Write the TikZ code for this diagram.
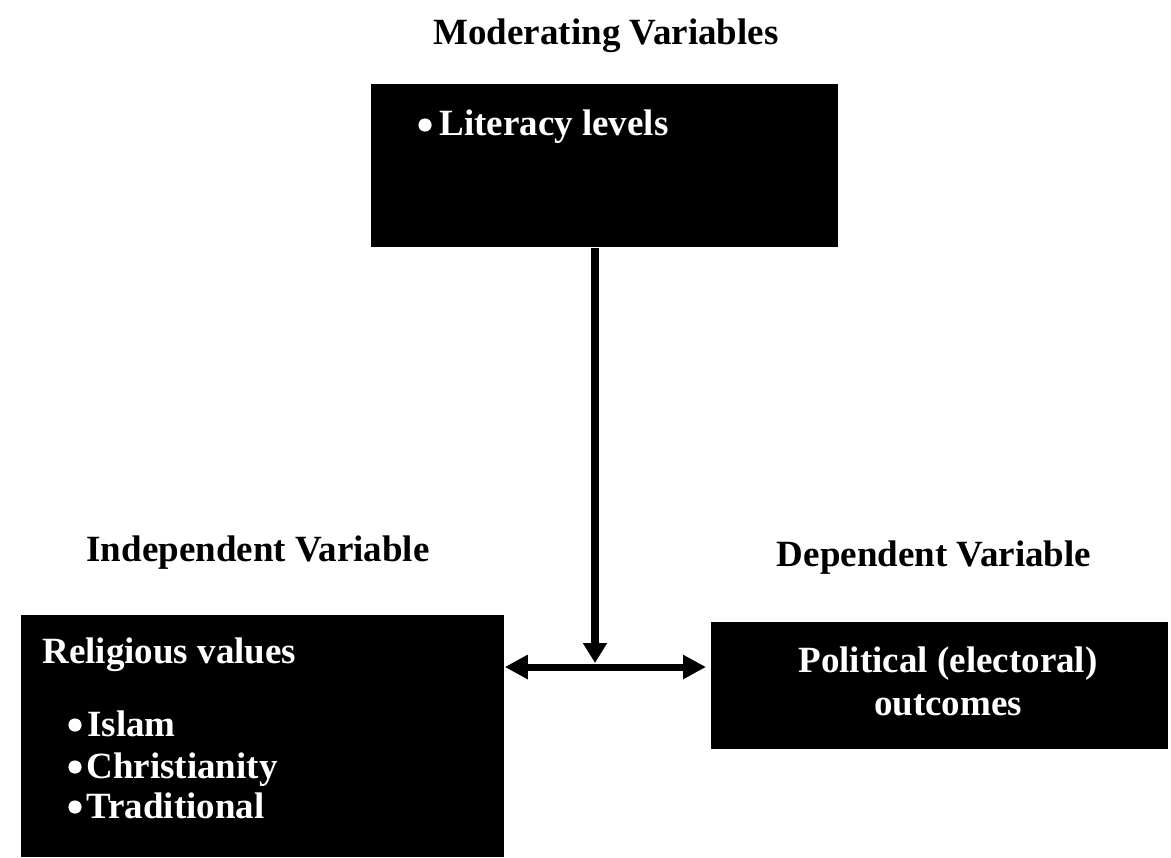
\documentclass[tikz,border=0pt]{standalone}
\usepackage{fontspec}
\setmainfont{Liberation Serif}
\usetikzlibrary{arrows.meta}
\begin{document}
\begin{tikzpicture}[x=0.5pt,y=-0.5pt,
  box/.style={fill=black, draw=none, inner sep=0pt, anchor=north west},
  lbl/.style={font=\fontsize{18.5}{22}\selectfont\bfseries, inner sep=0pt, text=black},
  wtxt/.style={lbl, text=white},
  bul/.style={fill=white},
  vconn/.style={line width=4pt, -{Triangle[length=10pt,width=11.5pt]}},
  hconn/.style={line width=3.5pt, {Triangle[length=11.5pt,width=11.5pt]}-{Triangle[length=11.5pt,width=11.5pt]}},
]
\useasboundingbox (0,0) rectangle (1171,857);
% boxes
\node[box, minimum width=233.5pt, minimum height=81.5pt] (mod) at (371,84) {};
\node[box, minimum width=241.5pt, minimum height=121pt] (ind) at (21,615) {};
\node[box, minimum width=228.5pt, minimum height=63.5pt] (dep) at (711,622) {};
% headings
\node[lbl, anchor=base] (tmod) at (606,44) {Moderating Variables};
\node[lbl, anchor=base] (tind) at (258,561) {Independent Variable};
\node[lbl, anchor=base] (tdep) at (934,566) {Dependent Variable};
% box texts
\node[wtxt, anchor=base west] (lit) at (439,135) {Literacy levels};
\node[wtxt, anchor=base west] (rel) at (42,663) {Religious values};
\node[wtxt, anchor=base west] (isl) at (87,736) {Islam};
\node[wtxt, anchor=base west] (chr) at (86,778) {Christianity};
\node[wtxt, anchor=base west] (tra) at (86,818) {Traditional};
\node[wtxt, anchor=base] (pol) at (948,672) {Political (electoral)};
\node[wtxt, anchor=base] (out) at (948,715) {outcomes};
% bullets
\fill[bul] (425,125) circle[radius=3.3pt];
\fill[bul] (75,725) circle[radius=3.3pt];
\fill[bul] (75,767) circle[radius=3.3pt];
\fill[bul] (75,807) circle[radius=3.3pt];
% connectors
\coordinate (hj) at (595,667);
\draw[hconn] (ind.east |- hj) -- ([xshift=-2.5pt]dep.west |- hj);
\draw[vconn] (hj |- mod.south) -- ([yshift=2pt]hj);
\end{tikzpicture}
\end{document}
